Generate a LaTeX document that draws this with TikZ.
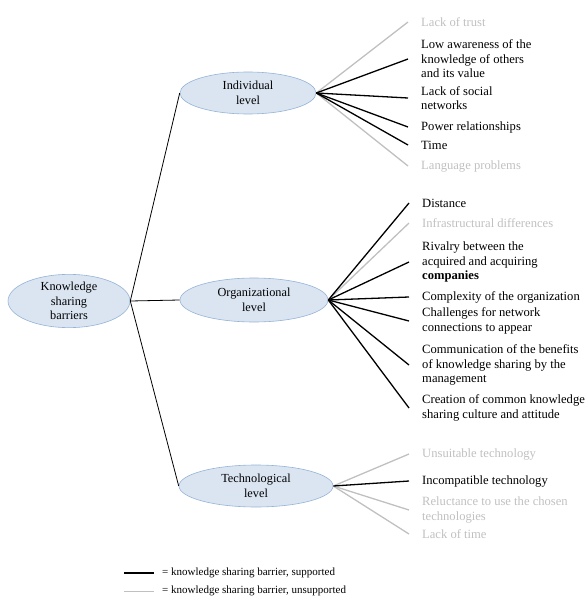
\documentclass[tikz,border=0pt]{standalone}
\usepackage{fontspec}
\setmainfont{Liberation Serif}
\usetikzlibrary{shapes.geometric}

\definecolor{lvlfill}{RGB}{219,229,242}
\definecolor{lvldraw}{RGB}{149,179,215}
\definecolor{unsup}{RGB}{192,192,192}

\begin{document}
\begin{tikzpicture}[x=1pt, y=-1pt,
    level/.style={ellipse, draw=lvldraw, fill=lvlfill, semithick, align=center, inner sep=0pt, font=\fontsize{12.3}{14.5}\selectfont},
    barrier/.style={anchor=west, align=left, inner xsep=13pt, inner ysep=0pt, font=\fontsize{12.6}{14.5}\selectfont},
    faint/.style={barrier, text=unsup},
    link/.style={line width=0.8pt},
    supline/.style={line width=1.3pt},
    unsline/.style={line width=1.3pt, draw=unsup},
    legendtext/.style={anchor=west, inner xsep=8pt, font=\fontsize{11}{12}\selectfont}]
        \useasboundingbox (0,0) rectangle (588,599);

        % levels
        \node[level, minimum width=122pt, minimum height=48pt] (root) at (69,301) {Knowledge\\sharing\\barriers};
        \node[level, minimum width=136pt, minimum height=42pt] (ind) at (248,93) {Individual\\level};
        \node[level, minimum width=148pt, minimum height=44pt] (org) at (254,300) {Organizational\\level};
        \node[level, minimum width=154pt, minimum height=42pt] (tech) at (256,486) {Technological\\level};

        \draw[link] (root.east) -- (ind.west);
        \draw[link] (root.east) -- (org.west);
        \draw[link] (root.east) -- (tech.west);

        % individual barriers
        \node[faint] (i1) at (408,22) {Lack of trust};
        \node[barrier] (i2) at (408,59) {Low awareness of the\\knowledge of others\\and its value};
        \node[barrier] (i3) at (408,98) {Lack of social\\networks};
        \node[barrier] (i4) at (408,127) {Power relationships};
        \node[barrier] (i5) at (408,145) {Time};
        \node[faint] (i6) at (408,166) {Language problems};

        % organizational barriers
        \node[barrier] (o1) at (409,203) {Distance};
        \node[faint] (o2) at (409,223) {Infrastructural differences};
        \node[barrier] (o3) at (409,262) {Rivalry between the\\acquired and acquiring\\\textbf{companies}};
        \node[barrier] (o4) at (409,297) {Complexity of the organization};
        \node[barrier] (o5) at (409,321) {Challenges for network\\connections to appear};
        \node[barrier] (o6) at (409,365) {Communication of the benefits\\of knowledge sharing by the\\management};
        \node[barrier] (o7) at (409,408) {Creation of common knowledge\\sharing culture and attitude};

        % technological barriers
        \node[faint] (t1) at (409,454) {Unsuitable technology};
        \node[barrier] (t2) at (409,481) {Incompatible technology};
        \node[faint] (t3) at (409,510) {Reluctance to use the chosen\\technologies};
        \node[faint] (t4) at (409,534) {Lack of time};

        % fans
        \foreach \b in {i1,i6} \draw[unsline] (ind.east) -- (\b.west);
        \foreach \b in {i2,i3,i4,i5} \draw[supline] (ind.east) -- (\b.west);
        \draw[unsline] (org.east) -- (o2.west);
        \foreach \b in {o1,o3,o4,o5,o6,o7} \draw[supline] (org.east) -- (\b.west);
        \foreach \b in {t1,t3,t4} \draw[unsline] (tech.east) -- (\b.west);
        \draw[supline] (tech.east) -- (t2.west);

        % legend
        \coordinate (k1) at (124,573);
        \coordinate (k2) at (124,591);
        \node[legendtext] (l1) at (154,573) {= knowledge sharing barrier, supported};
        \node[legendtext] (l2) at (154,591) {= knowledge sharing barrier, unsupported};
        \draw[line width=1.2pt] (k1) -- (l1.west);
        \draw[line width=1pt, draw=unsup] (k2) -- (l2.west);
      \end{tikzpicture}
\end{document}
